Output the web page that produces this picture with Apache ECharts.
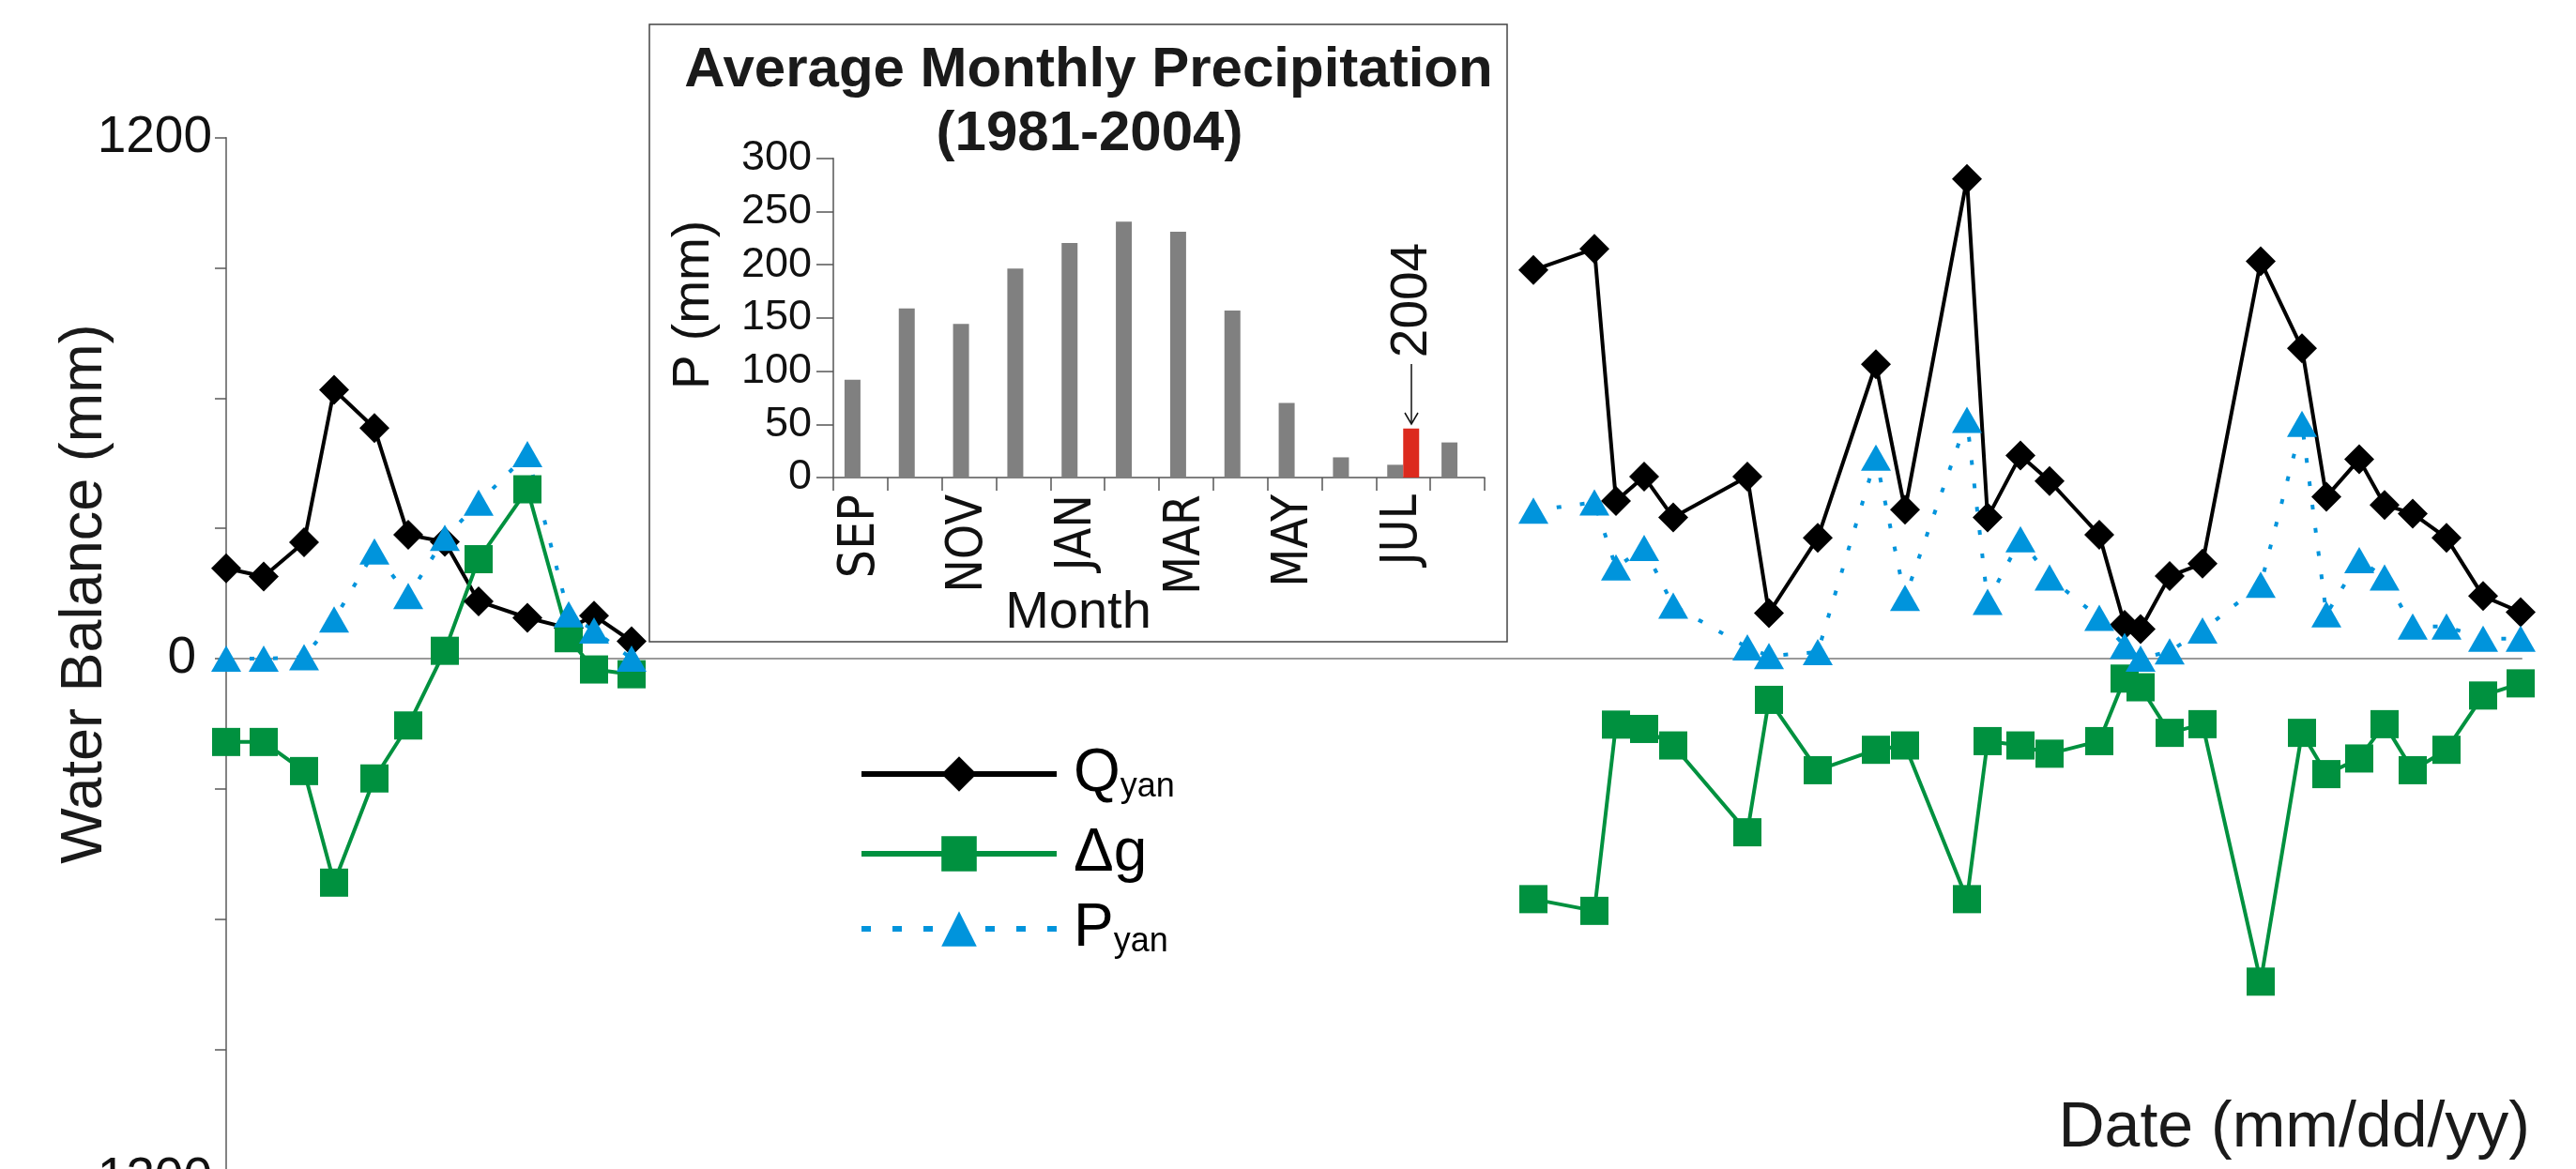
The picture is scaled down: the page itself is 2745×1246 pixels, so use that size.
<!DOCTYPE html>
<html>
<head>
<meta charset="utf-8">
<script src="https://cdn.jsdelivr.net/npm/echarts@6/dist/echarts.min.js"></script>
<style>
html,body{margin:0;padding:0;background:#fff;}
#chart{width:2745px;height:1246px;}
</style>
</head>
<body>
<div id="chart"></div>
<script>
const FONT = '"Liberation Sans", Arial, Helvetica, sans-serif';
const NARROW = '"Liberation Sans Narrow", "Arial Narrow", "DejaVu Sans Condensed", sans-serif';

// ---- main plot: observation position (days from first observation) ----
const dayLeft  = [0, 40, 83, 115, 158, 194, 233, 269, 321, 365, 392, 432];
const dayRight = [1393, 1458, 1481, 1511, 1542, 1621, 1644, 1696, 1758, 1789, 1855, 1877, 1912, 1943,
                  1996, 2023, 2040, 2071, 2106, 2168, 2212, 2238, 2273, 2300, 2330, 2366, 2405, 2445];

// Q_yan (mm)
const qLeft  = [208, 189, 268, 619, 531, 285, 269, 132, 94, 70, 99, 40];
const qRight = [895, 944, 363, 419, 325, 419, 105, 278, 678, 343, 1105, 325, 468, 409,
                285, 78, 68, 190, 219, 915, 715, 373, 459, 354, 334, 278, 144, 107];
// Delta g (mm)
const gLeft  = [-192, -192, -259, -516, -276, -154, 18, 229, 390, 47, -25, -36];
const gRight = [-554, -581, -152, -162, -200, -400, -95, -257, -210, -200, -554, -190, -200, -219,
                -190, -46, -66, -171, -151, -744, -171, -266, -230, -151, -257, -210, -85, -57];
// P_yan (mm)
const pLeft  = [0, 0, 3, 90, 247, 144, 278, 359, 471, 102, 65, 0];
const pRight = [341, 360, 210, 255, 122, 26, 6, 15, 463, 140, 550, 131, 275, 187,
                94, 29, 0, 17, 65, 170, 541, 102, 227, 187, 74, 74, 46, 46];

const yLabelValues = [-1200, 0, 1200];

// ---- inset: average monthly precipitation 1981-2004 ----
const months = ['SEP', 'OCT', 'NOV', 'DEC', 'JAN', 'FEB', 'MAR', 'APR', 'MAY', 'JUN', 'JUL', 'AUG'];
const avgPrecip = [92, 159, 144.5, 196.5, 220.5, 240.5, 231, 157, 70, 19, 12, 33];
const precip2004 = ['-', '-', '-', '-', '-', '-', '-', '-', '-', '-', 46, '-'];

const pairs = (xs, ys) => xs.map((x, i) => [x, ys[i]]);

const COL_Q = '#000000';
const COL_G = '#00913f';
const COL_P = '#0094dc';

function lineSeries(name, xs, ys, color, symbol, size, lineType) {
  return {
    name: name, type: 'line', xAxisIndex: 0, yAxisIndex: 0,
    data: pairs(xs, ys), clip: false,
    symbol: symbol, symbolSize: size, showAllSymbol: true,
    itemStyle: { color: color },
    lineStyle: { color: color, width: 4, type: lineType },
    emphasis: { disabled: true }
  };
}

const chart = echarts.init(document.getElementById('chart'), null, { renderer: 'canvas' });

const legendBase = {
  orient: 'vertical', left: 915, padding: 0, itemWidth: 208, itemHeight: 47,
  selectedMode: false, inactiveColor: '#000'
};
const richQ = {
  a: { fontSize: 64, lineHeight: 64, fontFamily: FONT, color: '#000', padding: [0, 0, 0, 13] },
  b: { fontSize: 36, lineHeight: 36, fontFamily: FONT, color: '#000', verticalAlign: 'bottom', padding: [50, 0, 0, 0] }
};

chart.setOption({
  animation: false,
  backgroundColor: '#ffffff',
  textStyle: { fontFamily: FONT },
  grid: [
    { left: 241, top: 146.7, width: 2446, height: 1110.6, containLabel: false, outerBoundsMode: 'none' },
    { left: 888, top: 168.8, width: 694, height: 340.2, containLabel: false, outerBoundsMode: 'none' }
  ],
  xAxis: [
    {
      type: 'value', gridIndex: 0, min: 0, max: 2446,
      axisLine: { show: true, onZero: true, lineStyle: { color: '#9a9a9a', width: 2 } },
      axisTick: { show: false }, axisLabel: { show: false }, splitLine: { show: false }
    },
    {
      type: 'category', gridIndex: 1, data: months, boundaryGap: true,
      axisLine: { show: true, lineStyle: { color: '#555', width: 1.5 } },
      axisTick: { show: true, interval: 0, length: 14, alignWithLabel: false, lineStyle: { color: '#555', width: 1.5 } },
      axisLabel: { interval: 1, rotate: 90, margin: 18, fontSize: 53, fontFamily: NARROW, color: '#111' },
      splitLine: { show: false }
    }
  ],
  yAxis: [
    {
      type: 'value', gridIndex: 0, min: -1200, max: 1200, interval: 300,
      axisLine: { show: true, lineStyle: { color: '#5a5a5a', width: 1.5 } },
      axisTick: { show: true, length: 12, lineStyle: { color: '#5a5a5a', width: 1.5 } },
      axisLabel: {
        margin: 15, fontSize: 55, color: '#111', fontFamily: FONT,
        formatter: v => {
          if (yLabelValues.indexOf(v) < 0) return '';
          if (v === 0) return '{z|0}';
          return v < 0 ? '-' + Math.abs(v) : String(v);
        },
        rich: { z: { fontSize: 55, fontFamily: FONT, color: '#111', padding: [0, 17, 0, 0] } }
      },
      splitLine: { show: false }
    },
    {
      type: 'value', gridIndex: 1, min: 0, max: 300, interval: 50,
      axisLine: { show: true, lineStyle: { color: '#555', width: 1.5 } },
      axisTick: { show: true, length: 18, lineStyle: { color: '#555', width: 1.5 } },
      axisLabel: { margin: 23, fontSize: 45, color: '#111', fontFamily: FONT },
      splitLine: { show: false }
    }
  ],
  legend: [
    Object.assign({}, legendBase, {
      data: ['Qyan'], top: 771,
      lineStyle: { width: 6 },
      formatter: () => '{a|Q}{b|yan}',
      textStyle: { rich: richQ }
    }),
    Object.assign({}, legendBase, {
      data: ['Δg'], top: 878,
      lineStyle: { width: 6 },
      formatter: () => '{a|Δg}',
      textStyle: { rich: richQ }
    }),
    Object.assign({}, legendBase, {
      data: ['Pyan'], top: 936,
      lineStyle: { width: 6, type: [10, 23] },
      formatter: () => '{a|P}{b|yan}',
      textStyle: { rich: richQ }
    })
  ],
  graphic: [
    { type: 'rect', z: -10, shape: { x: 692, y: 26, width: 914, height: 658 },
      style: { fill: '#fff', stroke: '#444', lineWidth: 1.5 } },
    { type: 'text', x: 1160, y: 75,
      style: { text: 'Average Monthly Precipitation', fontSize: 60, fontWeight: 'bold', fontFamily: FONT, fill: '#1a1a1a',
               align: 'center', verticalAlign: 'middle', textAlign: 'center', textVerticalAlign: 'middle' } },
    { type: 'text', x: 1161, y: 143.5,
      style: { text: '(1981-2004)', fontSize: 60, fontWeight: 'bold', fontFamily: FONT, fill: '#1a1a1a',
               align: 'center', verticalAlign: 'middle', textAlign: 'center', textVerticalAlign: 'middle' } },
    { type: 'text', x: 740, y: 325, rotation: Math.PI / 2,
      style: { text: 'P (mm)', fontSize: 55, fontFamily: FONT, fill: '#111',
               align: 'center', verticalAlign: 'middle', textAlign: 'center', textVerticalAlign: 'middle' } },
    { type: 'text', x: 1149, y: 654,
      style: { text: 'Month', fontSize: 56, fontFamily: FONT, fill: '#111',
               align: 'center', verticalAlign: 'middle', textAlign: 'center', textVerticalAlign: 'middle' } },
    { type: 'text', x: 1505, y: 320, rotation: Math.PI / 2,
      style: { text: '2004', fontSize: 55, fontFamily: FONT, fill: '#111',
               align: 'center', verticalAlign: 'middle', textAlign: 'center', textVerticalAlign: 'middle' } },
    { type: 'line', shape: { x1: 1504, y1: 388, x2: 1504, y2: 452 }, style: { stroke: '#111', lineWidth: 1.5 } },
    { type: 'polyline', shape: { points: [[1497, 440], [1504, 452], [1511, 440]] }, style: { stroke: '#111', lineWidth: 1.5, fill: null } },
    { type: 'text', x: 91, y: 633, rotation: Math.PI / 2,
      style: { text: 'Water Balance (mm)', fontSize: 63, fontFamily: FONT, fill: '#1a1a1a',
               align: 'center', verticalAlign: 'middle', textAlign: 'center', textVerticalAlign: 'middle' } },
    { type: 'text', x: 2696, y: 1203,
      style: { text: 'Date (mm/dd/yy)', fontSize: 68, fontFamily: FONT, fill: '#1a1a1a',
               align: 'right', verticalAlign: 'middle', textAlign: 'right', textVerticalAlign: 'middle' } }
  ],
  series: [
    lineSeries('Qyan', dayLeft, qLeft, COL_Q, 'diamond', 32, 'solid'),
    lineSeries('Qyan', dayRight, qRight, COL_Q, 'diamond', 32, 'solid'),
    lineSeries('Δg', dayLeft, gLeft, COL_G, 'rect', 30, 'solid'),
    lineSeries('Δg', dayRight, gRight, COL_G, 'rect', 30, 'solid'),
    lineSeries('Pyan', dayLeft, pLeft, COL_P, 'triangle', [32, 28], [5, 20]),
    lineSeries('Pyan', dayRight, pRight, COL_P, 'triangle', [32, 28], [5, 20]),
    {
      name: 'avg', type: 'bar', xAxisIndex: 1, yAxisIndex: 1, data: avgPrecip,
      barWidth: 17, barGap: '0%', itemStyle: { color: '#808080' }, emphasis: { disabled: true }
    },
    {
      name: '2004', type: 'bar', xAxisIndex: 1, yAxisIndex: 1, data: precip2004,
      barWidth: 17, barGap: '0%', itemStyle: { color: '#dc2a1e' }, emphasis: { disabled: true }
    }
  ]
});
</script>
</body>
</html>
